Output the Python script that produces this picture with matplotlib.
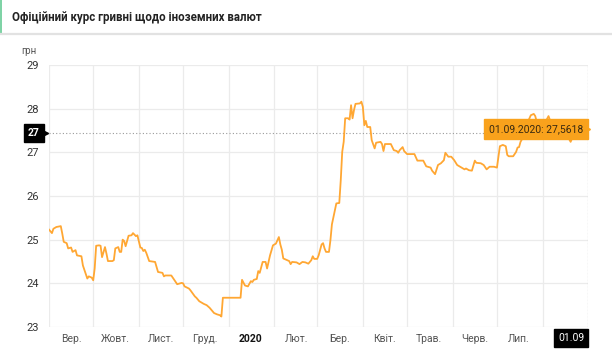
import matplotlib
matplotlib.use("Agg")
import matplotlib.pyplot as plt
from matplotlib.lines import Line2D
from matplotlib.patches import Rectangle
import pandas as pd

plt.rcParams["font.family"] = ["Roboto", "DejaVu Sans"]

TITLE = "Офіційний курс гривні щодо іноземних валют"
UNIT = "грн"

# UAH per USD
dates = [
    "2019-09-01", "2019-09-03", "2019-09-04", "2019-09-06", "2019-09-09", "2019-09-10",
    "2019-09-11", "2019-09-13", "2019-09-14", "2019-09-16", "2019-09-17", "2019-09-19",
    "2019-09-20", "2019-09-23", "2019-09-24", "2019-09-26", "2019-09-27", "2019-09-28",
    "2019-09-30", "2019-10-01", "2019-10-02", "2019-10-03", "2019-10-05", "2019-10-06",
    "2019-10-07", "2019-10-09", "2019-10-10", "2019-10-11", "2019-10-14", "2019-10-15",
    "2019-10-16", "2019-10-18", "2019-10-19", "2019-10-20", "2019-10-21", "2019-10-22",
    "2019-10-23", "2019-10-25", "2019-10-27", "2019-10-28", "2019-10-30", "2019-10-31",
    "2019-11-02", "2019-11-03", "2019-11-04", "2019-11-05", "2019-11-06", "2019-11-08",
    "2019-11-12", "2019-11-14", "2019-11-17", "2019-11-18", "2019-11-19", "2019-11-23",
    "2019-11-24", "2019-11-26", "2019-11-27", "2019-11-30", "2019-12-01", "2019-12-02",
    "2019-12-05", "2019-12-06", "2019-12-09", "2019-12-10", "2019-12-12", "2019-12-13",
    "2019-12-15", "2019-12-17", "2019-12-19", "2019-12-21", "2019-12-22", "2019-12-24",
    "2019-12-26", "2019-12-27", "2019-12-28", "2020-01-09", "2020-01-10", "2020-01-12",
    "2020-01-14", "2020-01-16", "2020-01-17", "2020-01-18", "2020-01-20", "2020-01-21",
    "2020-01-22", "2020-01-24", "2020-01-26", "2020-01-27", "2020-01-29", "2020-01-31",
    "2020-02-02", "2020-02-04", "2020-02-05", "2020-02-06", "2020-02-07", "2020-02-09",
    "2020-02-11", "2020-02-12", "2020-02-13", "2020-02-16", "2020-02-18", "2020-02-20",
    "2020-02-22", "2020-02-24", "2020-02-26", "2020-02-27", "2020-02-28", "2020-03-01",
    "2020-03-02", "2020-03-04", "2020-03-05", "2020-03-06", "2020-03-07", "2020-03-09",
    "2020-03-10", "2020-03-11", "2020-03-13", "2020-03-14", "2020-03-16", "2020-03-17",
    "2020-03-18", "2020-03-19", "2020-03-20", "2020-03-22", "2020-03-23", "2020-03-24",
    "2020-03-25", "2020-03-26", "2020-03-27", "2020-03-30", "2020-03-31", "2020-04-01",
    "2020-04-02", "2020-04-03", "2020-04-04", "2020-04-06", "2020-04-07", "2020-04-09",
    "2020-04-10", "2020-04-13", "2020-04-14", "2020-04-15", "2020-04-16", "2020-04-20",
    "2020-04-22", "2020-04-24", "2020-04-25", "2020-04-26", "2020-04-28", "2020-04-29",
    "2020-05-01", "2020-05-06", "2020-05-08", "2020-05-12", "2020-05-14", "2020-05-17",
    "2020-05-18", "2020-05-20", "2020-05-22", "2020-05-24", "2020-05-26", "2020-05-27",
    "2020-05-29", "2020-05-31", "2020-06-02", "2020-06-04", "2020-06-07", "2020-06-09",
    "2020-06-10", "2020-06-12", "2020-06-14", "2020-06-16", "2020-06-17", "2020-06-20",
    "2020-06-22", "2020-06-24", "2020-06-26", "2020-06-29", "2020-07-01", "2020-07-03",
    "2020-07-05", "2020-07-07", "2020-07-08", "2020-07-09", "2020-07-12", "2020-07-14",
    "2020-07-15", "2020-07-16", "2020-07-17", "2020-07-19", "2020-07-20", "2020-07-22",
    "2020-07-24", "2020-07-26", "2020-07-27", "2020-07-28", "2020-07-31", "2020-08-03",
    "2020-08-05", "2020-08-08", "2020-08-12", "2020-08-15", "2020-08-18", "2020-08-20",
    "2020-08-21", "2020-08-23", "2020-08-30", "2020-09-01",
]
rates = [
    25.23, 25.15, 25.25, 25.29, 25.31, 25.14,
    24.95, 24.92, 24.80, 24.82, 24.72, 24.76,
    24.64, 24.62, 24.41, 24.21, 24.11, 24.16,
    24.13, 24.07, 24.34, 24.86, 24.87, 24.86,
    24.60, 24.83, 24.68, 24.51, 24.51, 24.53,
    24.80, 24.83, 24.72, 24.72, 25.00, 24.97,
    24.85, 25.09, 25.10, 25.15, 25.08, 25.10,
    24.82, 24.81, 24.74, 24.77, 24.70, 24.51,
    24.49, 24.26, 24.24, 24.16, 24.18, 24.18,
    24.13, 24.03, 23.98, 24.01, 24.00, 23.93,
    23.88, 23.84, 23.70, 23.67, 23.59, 23.57,
    23.53, 23.50, 23.44, 23.36, 23.32, 23.29,
    23.27, 23.24, 23.67, 23.67, 24.08, 23.95,
    23.93, 24.05, 24.03, 24.08, 24.10, 24.28,
    24.24, 24.49, 24.49, 24.34, 24.64, 24.87,
    24.91, 25.06, 24.89, 24.77, 24.57, 24.54,
    24.51, 24.44, 24.49, 24.48, 24.44, 24.49,
    24.48, 24.45, 24.53, 24.62, 24.56, 24.56,
    24.64, 24.89, 24.92, 24.80, 24.72, 24.72,
    24.99, 25.35, 25.67, 25.83, 25.84, 26.36,
    27.01, 27.24, 27.78, 27.78, 27.75, 28.08,
    27.78, 27.97, 28.11, 28.12, 28.16, 28.04,
    27.62, 27.72, 27.58, 27.58, 27.28, 27.09,
    27.22, 27.24, 27.19, 27.03, 27.19, 27.19,
    27.05, 27.03, 26.99, 27.05, 27.12, 27.03,
    26.96, 26.96, 26.81, 26.81, 26.68, 26.65,
    26.58, 26.50, 26.71, 26.75, 26.82, 26.99,
    26.90, 26.90, 26.82, 26.71, 26.65, 26.61,
    26.63, 26.59, 26.58, 26.81, 26.76, 26.75,
    26.71, 26.61, 26.67, 26.67, 26.65, 27.14,
    27.17, 27.14, 26.94, 26.91, 26.91, 27.01,
    27.11, 27.12, 27.24, 27.36, 27.37, 27.70,
    27.85, 27.88, 27.83, 27.70, 27.65, 27.70,
    27.83, 27.55, 27.45, 27.42, 27.36, 27.24,
    27.32, 27.36, 27.36, 27.5618,
]

# August label sits under the "01.09" cursor box in the reference, so it is left blank
month_labels = ["Вер.", "Жовт.", "Лист.", "Груд.", "2020", "Лют.",
                "Бер.", "Квіт.", "Трав.", "Черв.", "Лип.", ""]
y_ticks = [23, 24, 25, 26, 27, 28, 29]
cursor_date = "2020-09-01"
cursor_level = 27.44
tooltip_text = "01.09.2020: 27,5618"

LINE_COLOR = "#ffa733"
GRID_COLOR = "#ebebeb"
W, H = 612, 350

x = pd.to_datetime(dates)
month_starts = pd.date_range("2019-09-01", "2020-09-01", freq="MS")
month_mids = month_starts[:-1] + pd.Timedelta(days=15)

fig = plt.figure(figsize=(W / 100, H / 100), dpi=100)

# header strip
fig.add_artist(Rectangle((0, 1 - 33 / H), 2 / W, 33 / H, transform=fig.transFigure,
                         color="#7fd3a6", lw=0))
fig.add_artist(Line2D([0, 1], [1 - 34 / H] * 2, transform=fig.transFigure,
                      color="#e2e2e2", lw=1.6))
fig.text(12 / W, 1 - 17 / H, TITLE, fontsize=8.3, fontweight="bold",
         color="#222222", va="center", ha="left")
fig.text(29 / W, 1 - 51 / H, UNIT, fontsize=7, color="#555555", va="center", ha="center")

ax = fig.add_axes([49 / W, 1 - 327 / H, (588.3 - 49) / W, (327 - 65) / H])
ax.plot(x, rates, color=LINE_COLOR, lw=1.3, zorder=3)

ax.set_xlim(month_starts[0], month_starts[-1])
ax.set_ylim(23, 29)
ax.set_yticks(y_ticks)
ax.set_xticks(month_starts)
ax.set_xticklabels([])
ax.set_xticks(month_mids, minor=True)
ax.set_xticklabels(month_labels, minor=True)
ax.grid(True, which="major", color=GRID_COLOR, lw=0.9)
ax.tick_params(axis="both", which="both", length=0)
ax.tick_params(axis="x", which="minor", pad=5, labelsize=7.5, labelcolor="#555555")
ax.tick_params(axis="y", pad=7, labelsize=8, labelcolor="#333333")
for lbl in ax.get_xticklabels(minor=True):
    if lbl.get_text() == "2020":
        lbl.set_fontweight("bold")
        lbl.set_color("#111111")
for s in ax.spines.values():
    s.set_visible(False)

# crosshair
cx = pd.Timestamp(cursor_date)
ax.axhline(cursor_level, color="#9a9a9a", lw=0.8, ls=(0, (1, 2)), zorder=2)
ax.axvline(cx, color="#9a9a9a", lw=0.8, ls=(0, (1, 2)), zorder=2)

# value marker boxes
fig.text(34 / W, 1 - 133 / H, "27", fontsize=7.5, fontweight="bold", color="white",
         ha="center", va="center",
         bbox=dict(boxstyle="square,pad=0.4", fc="black", ec="black"))
fig.add_artist(Line2D([46 / W], [1 - 133 / H], transform=fig.transFigure, marker=">",
                      ms=3, color="black", lw=0))
fig.text(571 / W, 1 - 338 / H, "01.09", fontsize=7.5, color="white",
         ha="center", va="center",
         bbox=dict(boxstyle="square,pad=0.4", fc="black", ec="black"))

# tooltip
fig.text(536 / W, 1 - 129 / H, tooltip_text, fontsize=7.5, color="#3a2a10",
         ha="center", va="center",
         bbox=dict(boxstyle="square,pad=0.45", fc="#f9a21c", ec="#f9a21c"))
fig.add_artist(Line2D([587 / W], [1 - 129 / H], transform=fig.transFigure, marker=">",
                      ms=4, color="#f9a21c", lw=0))

fig.savefig("out.png", dpi=100)
